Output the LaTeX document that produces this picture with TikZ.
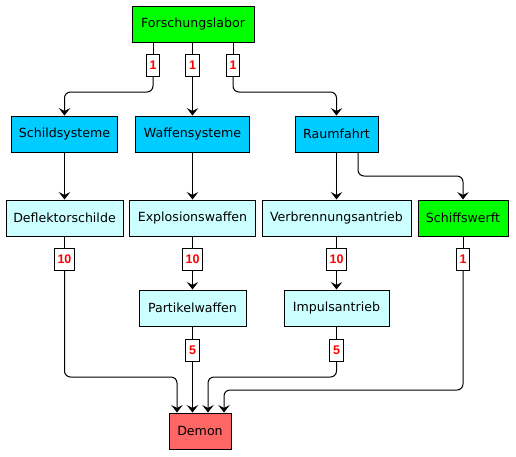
\documentclass[tikz,border=0pt]{standalone}
\usepackage{fontspec}
\setmainfont{DejaVu Sans}
\newfontfamily\weightfont{Liberation Sans}
\usepackage{xcolor}
\usetikzlibrary{positioning,arrows.meta}
\definecolor{labgreen}{HTML}{00FF00}
\definecolor{areablue}{HTML}{00CCFF}
\definecolor{techcyan}{HTML}{CCFFFF}
\definecolor{demonred}{HTML}{FF6666}

\begin{document}
\begin{tikzpicture}[x=1pt, y=-1pt, line width=1pt,
  box/.style={draw, minimum height=36, inner sep=0, font=\fontsize{12.6}{15}\selectfont},
  lbl/.style={draw, fill=white, minimum height=22, inner xsep=3.2, inner ysep=0,
    text=red, font=\weightfont\fontsize{12.5}{14}\selectfont\bfseries},
  elbow/.style={rounded corners=6},
  >={Stealth[length=7.5pt, width=11.5pt, inset=3pt]}]
\useasboundingbox (0,0) rectangle (516,456);
\node[box, fill=labgreen, minimum width=122] (labor) at (193,24) {Forschungslabor};
\node[box, fill=areablue, minimum width=106] (schild) at (64.5,134) {Schildsysteme};
\node[box, fill=areablue, minimum width=114] (waffen) at (192.5,134) {Waffensysteme};
\node[box, fill=areablue, minimum width=83] (raum) at (336.5,134) {Raumfahrt};
\node[box, fill=techcyan, minimum width=117] (deflektor) at (64.5,218) {Deflektorschilde};
\node[box, fill=techcyan, minimum width=126] (explosion) at (192.5,218) {Explosionswaffen};
\node[box, fill=techcyan, minimum width=149] (verbrennung) at (336.5,218) {Verbrennungsantrieb};
\node[box, fill=labgreen, minimum width=90] (werft) at (463,218) {Schiffswerft};
\node[box, fill=techcyan, minimum width=107] (partikel) at (192.5,308) {Partikelwaffen};
\node[box, fill=techcyan, minimum width=105] (impuls) at (336.5,308) {Impulsantrieb};
\node[box, fill=demonred, minimum width=62] (demon) at (200,431) {Demon};
% edge weights
\node[lbl] (l1) at (153,65) {1};
\node[lbl] (l2) at (192.5,65) {1};
\node[lbl] (l3) at (233,65) {1};
\node[lbl] (l4) at (64.5,259) {10};
\node[lbl] (l5) at (192.5,259) {10};
\node[lbl] (l6) at (336.5,259) {10};
\node[lbl] (l7) at (463,259) {1};
\node[lbl] (l8) at (192.5,350.5) {5};
\node[lbl] (l9) at (336.5,350.5) {5};
\draw (labor.south -| l1) -- (l1);
\draw (labor.south -| l2) -- (l2);
\draw (labor.south -| l3) -- (l3);
\draw[->, elbow] (l1.south) |- (schild.north |- 0,92) -- (schild);
\draw[->] (l2) -- (waffen);
\draw[->, elbow] (l3.south) |- (raum.north |- 0,92) -- (raum);
\draw[->] (schild) -- (deflektor);
\draw[->] (waffen) -- (explosion);
\draw[->] (raum) -- (verbrennung);
\draw[->, elbow] (raum.south -| 358,0) |- (werft.north |- 0,176) -- (werft);
\draw (deflektor) -- (l4);
\draw (explosion) -- (l5);
\draw (verbrennung) -- (l6);
\draw (werft) -- (l7);
\draw[->] (l5) -- (partikel);
\draw[->] (l6) -- (impuls);
\draw (partikel) -- (l8);
\draw (impuls) -- (l9);
\draw[->, elbow] (l4.south) |- (177,377) -- (demon.north -| 177,0);
\draw[->] (l8) -- (demon.north -| l8);
\draw[->, elbow] (l9.south) |- (208,377) -- (demon.north -| 208,0);
\draw[->, elbow] (l7.south) |- (224,390) -- (demon.north -| 224,0);
\end{tikzpicture}
\end{document}
